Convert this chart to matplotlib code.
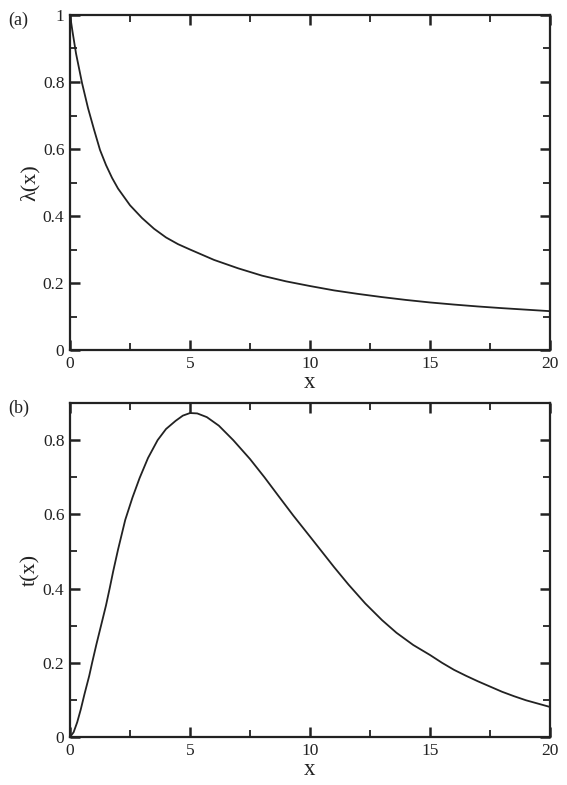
import numpy as np
import matplotlib
matplotlib.use('Agg')
import matplotlib.pyplot as plt
from matplotlib.ticker import MultipleLocator, FormatStrFormatter

plt.rcParams['font.family'] = ['Liberation Serif', 'DejaVu Serif']

# values
lam_x = [0, 0.1, 0.25, 0.5, 0.75, 1.0, 1.25, 1.5, 1.75, 2.0, 2.5, 3.0, 3.5, 4.0, 4.5,
         5, 6, 7, 8, 9, 10, 11, 12, 13, 14, 15, 16, 17, 18, 19, 20]
lam_y = [1.0, 0.952, 0.885, 0.797, 0.722, 0.658, 0.597, 0.552, 0.514, 0.482, 0.432, 0.394, 0.362, 0.336, 0.316,
         0.300, 0.269, 0.244, 0.222, 0.205, 0.191, 0.178, 0.1675, 0.158, 0.1495, 0.142, 0.1357, 0.130, 0.125, 0.1205, 0.116]

t_x = [0, 0.15, 0.3, 0.45, 0.6, 0.8, 0.92, 1.1, 1.31, 1.5, 1.65, 1.8, 2.0, 2.3, 2.6, 2.9, 3.25, 3.65,
       4.0, 4.4, 4.7, 5.0, 5.3, 5.7, 6.2, 6.8, 7.5, 8.1, 8.68, 9.3, 10.0, 10.5, 11.0, 11.6, 12.3,
       13.0, 13.6, 14.3, 15.0, 15.5, 16.0, 16.5, 17.0, 17.5, 18.0, 18.5, 19.0, 19.5, 20.0]
t_y = [0, 0.013, 0.04, 0.075, 0.115, 0.165, 0.20, 0.25, 0.305, 0.355, 0.40, 0.447, 0.505, 0.585, 0.645, 0.698, 0.752, 0.80,
       0.83, 0.852, 0.866, 0.873, 0.872, 0.862, 0.839, 0.80, 0.749, 0.70, 0.65, 0.597, 0.54, 0.499, 0.458, 0.411, 0.36,
       0.315, 0.281, 0.248, 0.221, 0.20, 0.181, 0.165, 0.15, 0.136, 0.122, 0.11, 0.099, 0.09, 0.081]

fig = plt.figure(figsize=(5.67, 7.85), dpi=100)
ax1 = fig.add_axes([0.1235, 0.5541, 0.8466, 0.4268])
ax2 = fig.add_axes([0.1235, 0.0611, 0.8466, 0.4255])

panels = [(ax1, lam_x, lam_y, 1.0, '\u03bb(x)', '(a)'),
          (ax2, t_x, t_y, 0.9, 't(x)', '(b)')]

for ax, xs, ys, ytop, ylab, tag in panels:
    ax.plot(xs, ys, color='#222222', lw=1.3)
    ax.set_xlim(0, 20)
    ax.set_ylim(0, ytop)
    ax.xaxis.set_major_locator(MultipleLocator(5))
    ax.xaxis.set_minor_locator(MultipleLocator(2.5))
    ax.yaxis.set_major_locator(MultipleLocator(0.2))
    ax.yaxis.set_minor_locator(MultipleLocator(0.1))
    ax.xaxis.set_major_formatter(FormatStrFormatter('%g'))
    ax.yaxis.set_major_formatter(FormatStrFormatter('%g'))
    ax.tick_params(which='both', direction='in', top=True, right=True, labelsize=12.5,
                   colors='#222222')
    ax.tick_params(which='major', length=7.5, width=1.8, pad=4)
    ax.tick_params(which='minor', length=5, width=1.3)
    for s in ax.spines.values():
        s.set_linewidth(1.6)
        s.set_color('#222222')
    ax.set_xlabel('x', fontsize=16.5, labelpad=0, color='#222222')
    ax.set_ylabel(ylab, fontsize=16, labelpad=2, color='#222222')
    ax.text(-0.107, 0.985, tag, transform=ax.transAxes, fontsize=13,
            ha='center', va='center', color='#222222')

fig.savefig('out.png', dpi=100)
